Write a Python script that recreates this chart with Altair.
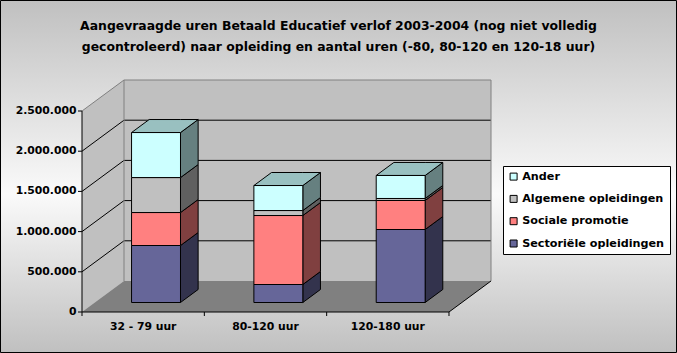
import altair as alt
import pandas as pd

# ---------------- data ----------------
categories = ["32 - 79 uur", "80-120 uur", "120-180 uur"]
series = ["Sectoriële opleidingen", "Sociale promotie", "Algemene opleidingen", "Ander"]
sectoriele = [709000, 224000, 908000]
sociale = [410000, 858000, 361000]
algemene = [435000, 62000, 25000]
ander = [560000, 311000, 286000]
y_ticks = [0, 500000, 1000000, 1500000, 2000000, 2500000]
title_lines = [
    "Aangevraagde uren Betaald Educatief verlof 2003-2004 (nog niet volledig",
    "gecontroleerd) naar opleiding en aantal uren (-80, 80-120 en 120-18 uur)",
]

# ---------------- styles ----------------
front_colors = ["#666699", "#FF8080", "#C0C0C0", "#CCFFFF"]
side_colors = ["#33334D", "#804040", "#606060", "#668080"]
top_color = "#99C0C0"
FONT = "DejaVu Sans"

# ---------------- layout ----------------
CH_W, CH_H = 677, 353
PLOT_LEFT, PLOT_TOP = 82, 80
BAND_PX = 122.33
WALL_DX_PX, WALL_DY_PX = 42, 31
H = 232
WDX = WALL_DX_PX / BAND_PX
YTOP = y_ticks[-1]
WDY = YTOP * WALL_DY_PX / (H - WALL_DY_PX)
X_DOMAIN = [0, len(categories) + WDX]
Y_DOMAIN = [0, YTOP + WDY]
W = round(X_DOMAIN[1] * BAND_PX)
BAR_W = 0.4
D0, D1 = 0.306, 0.726

xs = alt.Scale(domain=X_DOMAIN, nice=False, zero=False)
ys = alt.Scale(domain=Y_DOMAIN, nice=False, zero=False)


def X(f):
    return alt.X(f, type="quantitative", scale=xs, axis=None)


def Y(f):
    return alt.Y(f, type="quantitative", scale=ys, axis=None)


# ---------------- derived geometry (from the data arrays) ----------------
values = [sectoriele, sociale, algemene, ander]
sdx, sdy = (D1 - D0) * WDX, (D1 - D0) * WDY

front_rows, side_rows, top_rows = [], [], []
for i, cat in enumerate(categories):
    xl = i + 0.5 - BAR_W / 2 + D0 * WDX
    xr = xl + BAR_W
    base = D0 * WDY
    cum = 0
    for k, s in enumerate(series):
        v = values[k][i]
        yb, yt = base + cum, base + cum + v
        cum += v
        front_rows.append(dict(cat=cat, series=s, x=xl, x2=xr, y=yb, y2=yt))
        pid = f"{i}-{k}"
        side_rows.append(dict(pid=pid, col=side_colors[k], x=xr, y=yt, y2=yb))
        side_rows.append(dict(pid=pid, col=side_colors[k], x=xr + sdx, y=yt + sdy, y2=yb + sdy))
    T = base + cum
    for (px, py, py2) in [(xl, T, T), (xl + sdx, T + sdy, T), (xr, T + sdy, T), (xr + sdx, T + sdy, T + sdy)]:
        top_rows.append(dict(pid=str(i), x=px, y=py, y2=py2))

front_df = pd.DataFrame(front_rows)
side_df = pd.DataFrame(side_rows)
top_df = pd.DataFrame(top_rows)

ncat = len(categories)
left_wall = pd.DataFrame([dict(x=0, y=YTOP, y2=0), dict(x=WDX, y=YTOP + WDY, y2=WDY)])
floor = pd.DataFrame([dict(x=0, y=0, y2=0), dict(x=WDX, y=WDY, y2=0),
                      dict(x=ncat, y=WDY, y2=0), dict(x=ncat + WDX, y=WDY, y2=WDY)])
back_wall = pd.DataFrame([dict(x=WDX, x2=ncat + WDX, y=WDY, y2=YTOP + WDY)])

rules = []
for v in y_ticks[1:-1]:
    rules.append(dict(x=WDX, x2=ncat + WDX, y=v + WDY, y2=v + WDY, c="black"))
    rules.append(dict(x=0, x2=WDX, y=v, y2=v + WDY, c="black"))
rules += [
    dict(x=WDX, x2=WDX, y=WDY, y2=YTOP + WDY, c="#808080"),
    dict(x=ncat + WDX, x2=ncat + WDX, y=WDY, y2=YTOP + WDY, c="#808080"),
    dict(x=WDX, x2=ncat + WDX, y=YTOP + WDY, y2=YTOP + WDY, c="#808080"),
    dict(x=0, x2=WDX, y=YTOP, y2=YTOP + WDY, c="#808080"),
    dict(x=0, x2=0, y=0, y2=YTOP, c="black"),
    dict(x=0, x2=ncat, y=0, y2=0, c="black"),
    dict(x=ncat, x2=ncat + WDX, y=0, y2=WDY, c="black"),
]
rules_df = pd.DataFrame(rules)
xticks_df = pd.DataFrame(dict(x=list(range(ncat + 1))))
ylab_df = pd.DataFrame(dict(v=y_ticks, label=[f"{v:,}".replace(",", ".") for v in y_ticks]))
xlab_df = pd.DataFrame(dict(c=[i + 0.5 for i in range(ncat)], label=categories))

# ---------------- layers ----------------
bg = alt.Chart(pd.DataFrame([{"a": 1}])).mark_rect(
    fill=alt.Gradient(
        gradient="linear", x1=0, x2=0, y1=0, y2=1,
        stops=[alt.GradientStop(color="#C0C0C0", offset=0),
               alt.GradientStop(color="#FAFAFA", offset=0.55),
               alt.GradientStop(color="#C0C0C0", offset=1)]),
    stroke="black", strokeWidth=1,
).encode(
    x=alt.value(-PLOT_LEFT + 0.5), x2=alt.value(CH_W - PLOT_LEFT - 0.5),
    y=alt.value(-PLOT_TOP + 0.5), y2=alt.value(CH_H - PLOT_TOP - 0.5),
)

back = alt.Chart(back_wall).mark_rect(color="#C0C0C0").encode(
    x=X("x"), x2="x2", y=Y("y"), y2="y2")
lwall = alt.Chart(left_wall).mark_area(orient="vertical", color="#C0C0C0").encode(
    x=X("x"), y=Y("y"), y2="y2")
flr = alt.Chart(floor).mark_area(orient="vertical", color="#808080").encode(
    x=X("x"), y=Y("y"), y2="y2")

lines = alt.Chart(rules_df).mark_rule(strokeWidth=1).encode(
    x=X("x"), x2="x2", y=Y("y"), y2="y2", color=alt.Color("c:N", scale=None))

xticks = alt.Chart(xticks_df).mark_rule(color="black", strokeWidth=1).encode(
    x=X("x"), y=alt.value(H), y2=alt.value(H + 4))
yticks = alt.Chart(ylab_df).mark_rule(color="black", strokeWidth=1).encode(
    y=Y("v"), x=alt.value(-4), x2=alt.value(0))

ylabels = alt.Chart(ylab_df).mark_text(
    align="right", baseline="middle", font=FONT, fontWeight="bold", fontSize=10.8,
    color="black").encode(y=Y("v"), x=alt.value(-5.5), text="label:N")
xlabels = alt.Chart(xlab_df).mark_text(
    align="center", baseline="middle", font=FONT, fontWeight="bold", fontSize=10.8,
    color="black").encode(x=X("c"), y=alt.value(H + 14.5), text="label:N")

title_x = 338.5 - PLOT_LEFT
t1 = alt.Chart(pd.DataFrame(dict(t=[title_lines[0]]))).mark_text(
    align="center", baseline="middle", font=FONT, fontWeight="bold", fontSize=12.4,
    color="black").encode(x=alt.value(title_x), y=alt.value(26 - PLOT_TOP), text="t:N")
t2 = alt.Chart(pd.DataFrame(dict(t=[title_lines[1]]))).mark_text(
    align="center", baseline="middle", font=FONT, fontWeight="bold", fontSize=12.4,
    color="black").encode(x=alt.value(title_x), y=alt.value(46.7 - PLOT_TOP), text="t:N")

sides = alt.Chart(side_df).mark_area(orient="vertical", stroke="black", strokeWidth=1).encode(
    x=X("x"), y=Y("y"), y2="y2", detail="pid:N", color=alt.Color("col:N", scale=None))

tops = alt.Chart(top_df).mark_area(orient="vertical", color=top_color, stroke="black",
                                   strokeWidth=1).encode(
    x=X("x"), y=Y("y"), y2="y2", detail="pid:N")

legend_order = series[::-1]
legend_colors = front_colors[::-1]
fronts = alt.Chart(front_df).mark_rect(stroke="black", strokeWidth=1).encode(
    x=X("x"), x2="x2", y=Y("y"), y2="y2",
    color=alt.Color("series:N", scale=alt.Scale(domain=legend_order, range=legend_colors),
                    legend=alt.Legend(orient="none", legendX=421, legendY=86, title=None,
                                      fillColor="white", strokeColor="black", padding=5,
                                      symbolType="square", symbolSize=49,
                                      symbolStrokeColor="black", symbolStrokeWidth=1,
                                      labelFont=FONT, labelFontWeight="bold",
                                      labelFontSize=11.2, labelColor="black",
                                      rowPadding=9.3, labelOffset=3, cornerRadius=0)),
)

chart = alt.layer(bg, back, lwall, flr, lines, xticks, yticks, ylabels, xlabels, t1, t2,
                  sides, tops, fronts).properties(
    width=W, height=H,
    background="#D9D9D9",
    padding={"left": PLOT_LEFT, "top": PLOT_TOP,
             "right": CH_W - PLOT_LEFT - W, "bottom": CH_H - PLOT_TOP - H},
    autosize=alt.AutoSizeParams(type="none"),
).configure_view(stroke=None)

chart.save("out.html", embed_options={"renderer": "svg", "actions": False})
